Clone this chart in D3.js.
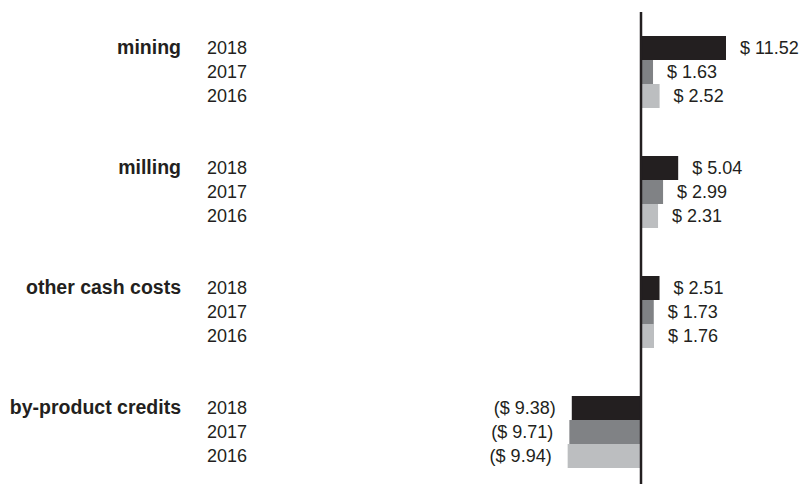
<!DOCTYPE html>
<html><head><meta charset="utf-8">
<script src="https://cdn.jsdelivr.net/npm/d3@7"></script>
<style>body{margin:0;background:#fff;} text{font-family:"Liberation Sans",Arial,sans-serif;}</style>
</head><body>
<svg id="c" width="804" height="485"></svg>
<script>
const categories = ["mining", "milling", "other cash costs", "by-product credits"];
const years = ["2018", "2017", "2016"];
const values2018 = [11.52, 5.04, 2.51, -9.38];
const values2017 = [1.63, 2.99, 1.73, -9.71];
const values2016 = [2.52, 2.31, 1.76, -9.94];
const colors = ["#231f20", "#808285", "#bcbec0"];

const series = [values2018, values2017, values2016];
const svg = d3.select("#c");
const x = d3.scaleLinear().domain([0, 11.52]).range([641, 726]);
const y0 = d3.scaleBand().domain(categories).range([36, 516]).paddingInner(0).paddingOuter(0);
const y1 = d3.scaleBand().domain(years).range([0, 72]);

const fmt = v => v < 0 ? "($ " + Math.abs(v).toFixed(2) + ")" : "$ " + v.toFixed(2);

categories.forEach((cat, ci) => {
  const g = svg.append("g").attr("transform", `translate(0,${y0(cat)})`);
  g.append("text").attr("x", 181).attr("y", y1("2018") + y1.bandwidth()/2 + 6)
    .attr("text-anchor", "end").attr("font-size", 19.5).attr("font-weight", "bold")
    .attr("fill", "#231f20").text(cat);
  years.forEach((yr, yi) => {
    const v = series[yi][ci];
    const yy = y1(yr);
    g.append("text").attr("x", 207).attr("y", yy + y1.bandwidth()/2 + 6)
      .attr("font-size", 18).attr("fill", "#231f20").text(yr);
    g.append("rect").attr("x", Math.min(x(0), x(v))).attr("y", yy)
      .attr("width", Math.abs(x(v) - x(0))).attr("height", y1.bandwidth()).attr("fill", colors[yi]);
    g.append("text")
      .attr("x", v < 0 ? x(v) - 16 : x(v) + 14)
      .attr("y", yy + y1.bandwidth()/2 + 6)
      .attr("text-anchor", v < 0 ? "end" : "start")
      .attr("font-size", 18).attr("fill", "#231f20").text(fmt(v));
  });
});

svg.append("line").attr("x1", x(0)).attr("x2", x(0)).attr("y1", 12).attr("y2", 484)
  .attr("stroke", "#231f20").attr("stroke-width", 2.5);
</script>
</body></html>
